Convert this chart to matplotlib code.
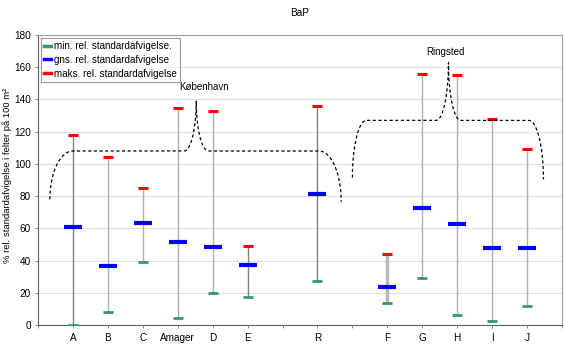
import numpy as np
import matplotlib
matplotlib.use("Agg")
import matplotlib.pyplot as plt
from matplotlib.lines import Line2D

plt.rcParams['font.family'] = ['Liberation Sans', 'DejaVu Sans']

# ---- data ----
categories = ["A", "B", "C", "Amager", "D", "E", "R", "F", "G", "H", "I", "J"]
positions = [1, 2, 3, 4, 5, 6, 8, 10, 11, 12, 13, 14]
min_vals = [0.3, 8.3, 39, 4.5, 19.7, 17.2, 27.1, 13.7, 29, 6, 2.5, 11.6]
mean_vals = [60.6, 36.8, 63.5, 51.3, 48.2, 37.2, 81.3, 23.8, 72.5, 62.5, 47.6, 48]
max_vals = [118, 104, 85, 134.5, 133, 49.2, 136, 43.9, 156, 155, 128, 109]
region_names = ["København", "Ringsted"]

# ---- figure ----
fig = plt.figure(figsize=(5.64, 3.45), dpi=100)
ax = fig.add_axes([38/564, 20/345, 524/564, 290/345])
ax.set_xlim(0, 15)
ax.set_ylim(0, 180)

line_colors = ['#808080', '#b0b0b0', '#b0b0b0', '#b0b0b0', '#b0b0b0', '#808080',
               '#808080', '#b8b8b8', '#b0b0b0', '#b0b0b0', '#b0b0b0', '#b0b0b0']
line_widths = [1, 1, 1, 1, 1, 1, 1, 2.5, 1, 1, 1, 1]
for x, lo, hi, c, lw in zip(positions, min_vals, max_vals, line_colors, line_widths):
    ax.plot([x, x], [lo, hi], color=c, lw=lw, zorder=2)

green = '#339966'
ax.plot(positions, min_vals, ls='none', marker='_', ms=6.5, mew=2.0, color=green, zorder=3)
ax.plot(positions, mean_vals, ls='none', marker='_', ms=12.5, mew=3.0, color='#0000ff', zorder=3)
ax.plot(positions, max_vals, ls='none', marker='_', ms=6.5, mew=2.2, color='#ff0000', zorder=3)

# ---- braces ----
def brace(x0, y0, x1, yf, xp, yp, x2, x3, y3):
    t = np.linspace(0, np.pi/2, 40)
    lx = x1 - (x1 - x0)*np.cos(t); ly = y0 + (yf - y0)*np.sin(t)
    a = 0.35
    pl_x = xp - a + a*np.sin(t); pl_y = yf + (yp - yf)*(1 - np.cos(t))
    pr_x = xp + a*(1 - np.cos(t)); pr_y = yp - (yp - yf)*np.sin(t)
    rx = x2 + (x3 - x2)*np.sin(t); ry = yf - (yf - y3)*(1 - np.cos(t))
    xs = np.concatenate([lx, [xp - a], pl_x, pr_x, [x2], rx])
    ys = np.concatenate([ly, [yf], pl_y, pr_y, [yf], ry])
    ax.plot(xs, ys, color='black', lw=0.9, ls=(0, (2.5, 2)), zorder=4)

brace(0.34, 78, 1.0, 108, 4.53, 139, 8.05, 8.68, 76.5)
brace(9.0, 91.5, 9.4, 127, 11.75, 163, 14.05, 14.47, 90.4)
ax.text(4.75, 148, region_names[0], ha='center', va='center', fontsize=7)
ax.text(11.65, 169.5, region_names[1], ha='center', va='center', fontsize=7)

# ---- axes styling ----
ax.set_yticks(np.arange(0, 181, 20))
ax.yaxis.grid(True, color='#e0e0e0', lw=0.8)
ax.set_axisbelow(True)
ax.set_xticks(positions)
ax.set_xticklabels(categories)
ax.set_xticks(np.arange(0, 16), minor=True)
ax.tick_params(axis='x', which='both', length=2.2, width=0.6, color='#808080', labelsize=7.2, pad=3.5)
ax.tick_params(axis='y', length=2.2, width=0.6, color='#808080', labelsize=7.2, pad=3)
for side in ['left', 'bottom']:
    ax.spines[side].set_color('#606060'); ax.spines[side].set_linewidth(0.8)
for side in ['top', 'right']:
    ax.spines[side].set_color('#a0a0a0'); ax.spines[side].set_linewidth(0.8)

fig.text(7/564, 1 - 175/345, '% rel. standardafvigelse i felter på 100 m²', rotation=90,
         ha='center', va='center', fontsize=6.8)
fig.text(300/564, 1 - 13/345, 'BaP', ha='center', va='center', fontsize=7.2)

handles = [Line2D([], [], color=green, lw=2.5),
           Line2D([], [], color='#0000ff', lw=2.5),
           Line2D([], [], color='#ff0000', lw=2.5)]
labels = ['min. rel. standardafvigelse.', 'gns. rel. standardafvigelse', 'maks. rel. standardafvigelse']
leg = ax.legend(handles, labels, loc='upper left', bbox_to_anchor=(41/564, 1 - 38/345),
                bbox_transform=fig.transFigure, fontsize=7.1, handlelength=0.7,
                handletextpad=0.3, borderpad=0.3, labelspacing=0.4, fancybox=False,
                borderaxespad=0)
leg.get_frame().set_edgecolor('#808080')
leg.get_frame().set_linewidth(0.8)

fig.savefig('out.png', dpi=100)
